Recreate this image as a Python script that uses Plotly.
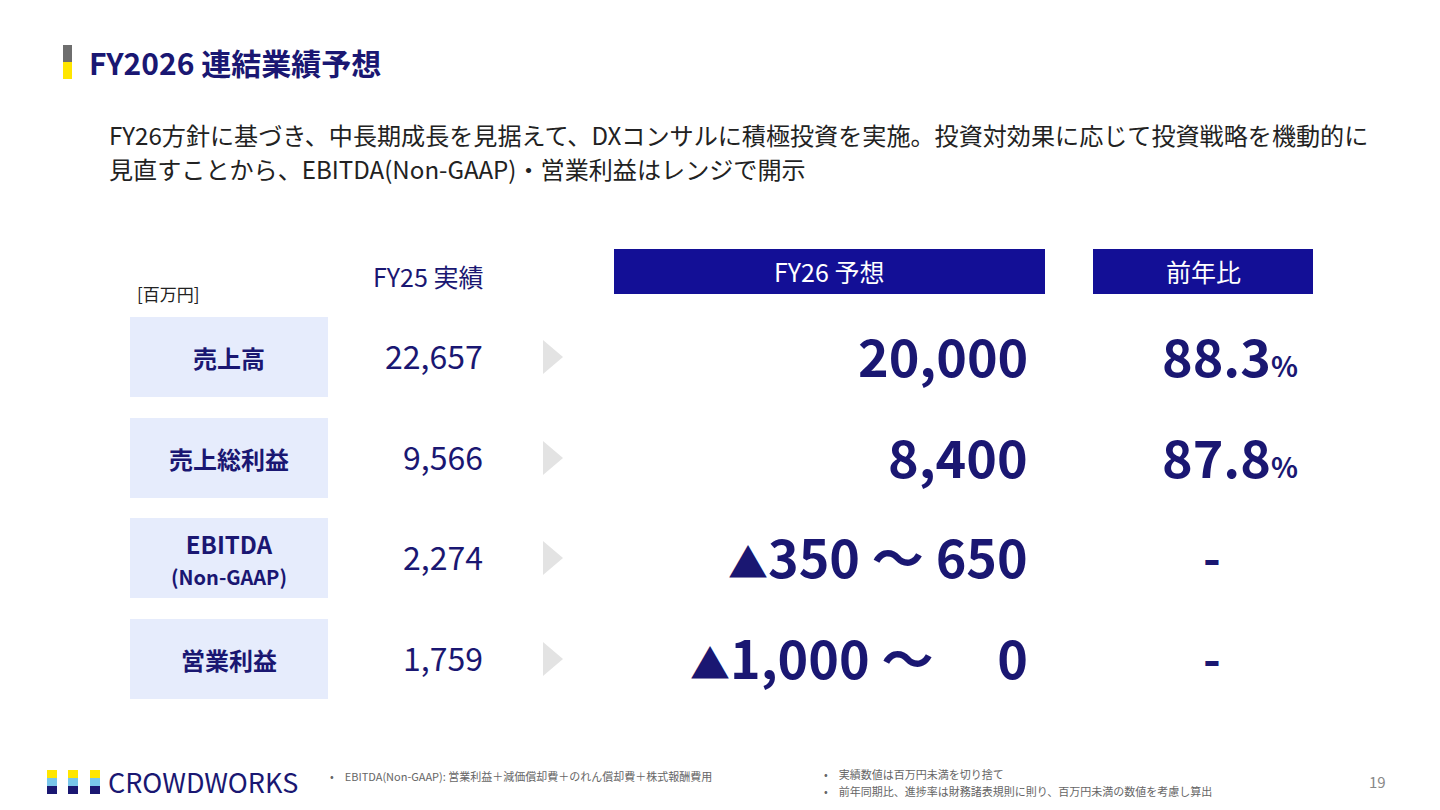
import plotly.graph_objects as go

categories = ["売上高", "売上総利益", "EBITDA<br><span style='font-size:20px'>(Non-GAAP)</span>", "営業利益"]
fy25_actual = ["22,657", "9,566", "2,274", "1,759"]
fy26_forecast = ["20,000", "8,400", "<span style='font-size:40px'>▲</span>350 ～ 650", "<span style='font-size:40px'>▲</span>1,000 ～　 0"]
yoy = ["88.3", "87.8", "-", "-"]

NAVY = "#1a1772"
HEAD = "#130f96"
FONT = "Noto Sans CJK JP"
row_y = [357, 458, 558, 659]

fig = go.Figure()
shapes = []
ann = []

def A(x, y, text, size, color=NAVY, xanchor="center", bold=False, **kw):
    if bold:
        text = f"<b>{text}</b>"
    ann.append(dict(x=x, y=y, xref="x", yref="y", text=text, showarrow=False,
                    xanchor=xanchor, yanchor="middle",
                    font=dict(family=FONT, size=size, color=color), **kw))

shapes.append(dict(type="rect", x0=63, x1=72, y0=45, y1=62, fillcolor="#6e6e6e", line_width=0))
shapes.append(dict(type="rect", x0=63, x1=72, y0=62, y1=79, fillcolor="#ffe600", line_width=0))
A(87, 62, "FY2026 連結業績予想", 30, xanchor="left", bold=True)

A(107, 134, "FY26方針に基づき、中長期成長を見据えて、DXコンサルに積極投資を実施。投資対効果に応じて投資戦略を機動的に", 24.1, color="#222", xanchor="left")
A(107, 168, "見直すことから、EBITDA(Non-GAAP)・営業利益はレンジで開示", 24.1, color="#222", xanchor="left")

A(135, 293, "[百万円]", 17, color="#222", xanchor="left")
A(428, 276, "FY25 実績", 25)
shapes.append(dict(type="rect", x0=614, x1=1045, y0=249, y1=294, fillcolor=HEAD, line_width=0))
A(829, 271, "FY26 予想", 25, color="white")
shapes.append(dict(type="rect", x0=1093, x1=1313, y0=249, y1=294, fillcolor=HEAD, line_width=0))
A(1203, 271, "前年比", 25, color="white")

for i, y in enumerate(row_y):
    shapes.append(dict(type="rect", x0=130, x1=328, y0=y - 40, y1=y + 40,
                       fillcolor="#e6ecfc", line_width=0))
    A(229, y, categories[i], 24, bold=True)
    A(485, y - 2, fy25_actual[i], 32, xanchor="right")
    shapes.append(dict(type="path", path=f"M 543 {y-17} L 563 {y} L 543 {y+17} Z",
                       fillcolor="#e3e3e3", line_width=0))
    A(1030, y - 3, fy26_forecast[i], 52, xanchor="right", bold=True)
    if yoy[i] == "-":
        A(1212, y - 3, "-", 48, bold=True)
    else:
        A(1300, y - 3, f"{yoy[i]}<span style='font-size:28px'>%</span>", 52, xanchor="right", bold=True)

cols = ["#ffe600", "#79c6ea", "#1a1772"]
for k, x0 in enumerate([47, 68, 90]):
    for j, c in enumerate(cols):
        shapes.append(dict(type="rect", x0=x0, x1=x0 + 10, y0=770 + j * 8, y1=778 + j * 8,
                           fillcolor=c, line_width=0))
A(106, 781, "CROWDWORKS", 27, xanchor="left")

A(328, 776, "•　EBITDA(Non-GAAP): 営業利益＋減価償却費＋のれん償却費＋株式報酬費用", 11, color="#666", xanchor="left")
A(822, 774, "•　実績数値は百万円未満を切り捨て", 11, color="#666", xanchor="left")
A(822, 791, "•　前年同期比、進捗率は財務諸表規則に則り、百万円未満の数値を考慮し算出", 11, color="#666", xanchor="left")
A(1377, 781, "19", 15, color="#888")

fig.update_layout(width=1440, height=810, margin=dict(l=0, r=0, t=0, b=0),
                  plot_bgcolor="white", paper_bgcolor="white",
                  xaxis=dict(range=[8, 1448], visible=False, fixedrange=True),
                  yaxis=dict(range=[818, 8], visible=False, fixedrange=True),
                  shapes=shapes, annotations=ann, showlegend=False)
fig.write_html("out.html")
